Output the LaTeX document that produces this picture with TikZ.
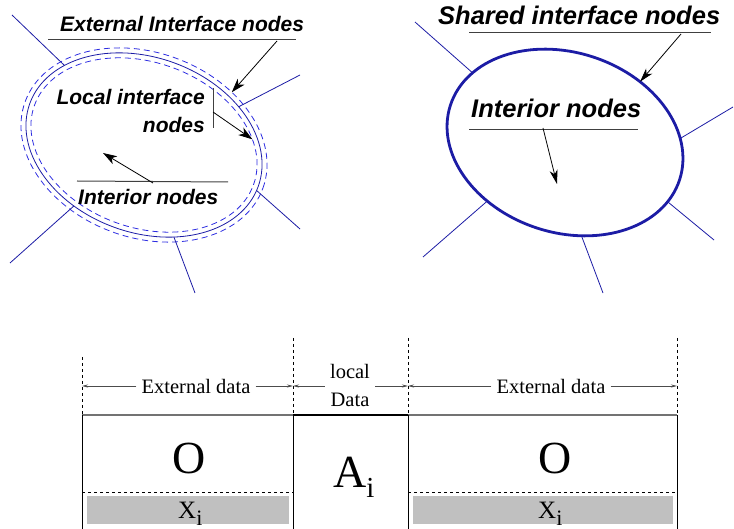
\documentclass[tikz,border=0pt]{standalone}
\usepackage{fontspec}
\setmainfont{Liberation Serif}
\setsansfont{Liberation Sans}
\usetikzlibrary{arrows.meta,shapes.geometric,positioning}
\definecolor{meshblue}{RGB}{28,28,165}
\definecolor{haloblue}{RGB}{45,45,225}
\definecolor{cellgray}{RGB}{192,192,192}
\tikzset{
  lbl/.style={font=\sffamily\bfseries\itshape\fontsize{21}{28}\selectfont, inner sep=0pt},
  biglbl/.style={font=\sffamily\bfseries\itshape\fontsize{25.5}{30}\selectfont, inner sep=0pt},
  blob/.style={ellipse, draw, inner sep=0pt, outer sep=0pt},
  spoke/.style={meshblue, line width=0.8pt},
  pointer/.style={-{Stealth[length=14pt,width=9pt,inset=4pt]}, line width=0.8pt},
  barline/.style={black!75, line width=1pt},
  guide/.style={dash pattern=on 3pt off 3pt, line width=0.6pt},
  dimarrow/.style={-{Stealth[length=6pt,width=3pt]}, black!70, line width=0.8pt},
  serif/.style={font=\fontsize{20.5}{28}\selectfont, inner sep=5pt, align=center},
  big/.style={font=\fontsize{46}{46}\selectfont, inner sep=0pt},
}
\begin{document}
\begin{tikzpicture}[x=1pt,y=-1pt]
\useasboundingbox (0,0) rectangle (734,529);
\clip (0,0) rectangle (734,529);

% left subdomain: interface split into external / local layers
\node[blob, meshblue, line width=0.8pt, minimum width=243pt, minimum height=175pt, rotate=-20] (domL) at (144,145) {};
\node[blob, haloblue, line width=0.8pt, dash pattern=on 6pt off 4pt, minimum width=253pt, minimum height=185pt, rotate=-20] (outL) at (144,145) {};
\node[blob, haloblue, line width=0.8pt, dash pattern=on 6pt off 4pt, minimum width=233pt, minimum height=165pt, rotate=-20] (inL) at (144,145) {};
\draw[spoke] (12,15) -- (domL.155);
\draw[spoke] (300,75) -- (domL.42);
\draw[spoke] (300,229) -- (domL.-2);
\draw[spoke] (10,263) -- (domL.241);
\draw[spoke] (195,293) -- (domL.308);

\node[lbl, anchor=base west] (extnodes) at (60,32) {External Interface nodes};
\draw[barline] (48,40) coordinate (extA) -- (296,40) coordinate (extB);
\draw[pointer] (277,41) -- (outL.51);

\node[lbl, anchor=east, align=right] (locnodes) at (205,111) {Local interface\\nodes};
\draw[barline] (213,88) -- (213,128);
\draw[pointer] (213,112) coordinate (locA) -- (inL.23);

\node[lbl, anchor=base west] (intL) at (78,205) {Interior nodes};
\draw[barline] (77,181) -- (228,182);
\coordinate (intTipL) at (103,153);
\draw[pointer] (153,183) -- (intTipL);

% right subdomain: shared interface
\node[blob, meshblue, line width=2.8pt, minimum width=241pt, minimum height=180pt, rotate=-18] (domR) at (565,142.5) {};
\draw[spoke] (415,22) -- (domR.161);
\draw[spoke] (733,107) -- (domR.20);
\draw[spoke] (714,240) -- (domR.348);
\draw[spoke] (423,257) -- (domR.235);
\draw[spoke] (603,293) -- (domR.298);

\node[biglbl, anchor=base west] (shared) at (438,25) {Shared interface nodes};
\draw[barline] (469,33) -- (711,33);
\draw[pointer, -{Stealth[length=14pt,width=8pt,inset=4pt]}] (681,34) -- (domR.57);

\node[biglbl, anchor=base west] (intR) at (471,118) {Interior nodes};
\draw[barline] (469,130) -- (638,130);
\coordinate (intTipR) at (557,184);
\draw[pointer, -{Stealth[length=14pt,width=8pt,inset=4pt]}] (543,128) -- (intTipR);

% local data layout
\coordinate (g1) at (82,386);
\coordinate (g2) at (293,386);
\coordinate (g3) at (408,386);
\coordinate (g4) at (677,386);
\draw[guide] (82,357) -- (82,415);
\draw[guide] (293,338) -- (293,415);
\draw[guide] (408,338) -- (408,415);
\draw[guide] (677,338) -- (677,415);

\node[serif] (extdL) at (196,386) {External data};
\node[serif] (locdata) at (350,385) {local\\Data};
\node[serif] (extdR) at (551,386) {External data};
\draw[dimarrow] (extdL.west) -- (g1);
\draw[dimarrow] (extdL.east) -- (g2);
\draw[dimarrow] (locdata.west |- g2) -- (g2);
\draw[dimarrow] (locdata.east |- g3) -- (g3);
\draw[dimarrow] (extdR.west) -- (g3);
\draw[dimarrow] (extdR.east) -- (g4);

\fill[cellgray] (87,496) rectangle (289,524);
\fill[cellgray] (413,496) rectangle (673,524);
\draw[guide] (82,492) -- (293,492);
\draw[guide] (408,492) -- (677,492);
\draw[black!55, line width=1.6pt] (82,415) -- (293,415);
\draw[black!55, line width=1.6pt] (408,415) -- (677,415);
\draw[line width=1.6pt] (293,415) -- (408,415);
\draw[line width=1pt] (82,415) -- (82,540);
\draw[line width=1pt] (293,415) -- (293,540);
\draw[line width=1pt] (408,415) -- (408,540);
\draw[line width=1pt] (677,415) -- (677,540);

\node[big, anchor=base] (oL) at (189,473) {O};
\node[big, anchor=base] (oR) at (555,473) {O};
\node[big, anchor=base west] (ai) at (333,487) {A\raisebox{-10pt}{\fontsize{29}{29}\selectfont i}};
\node[inner sep=0pt, anchor=base west, font=\fontsize{25}{25}\selectfont] (xL) at (178,518) {X\raisebox{-7pt}{\fontsize{22}{22}\selectfont i}};
\node[inner sep=0pt, anchor=base west, font=\fontsize{25}{25}\selectfont] (xR) at (538,518) {X\raisebox{-7pt}{\fontsize{22}{22}\selectfont i}};
\end{tikzpicture}
\end{document}
